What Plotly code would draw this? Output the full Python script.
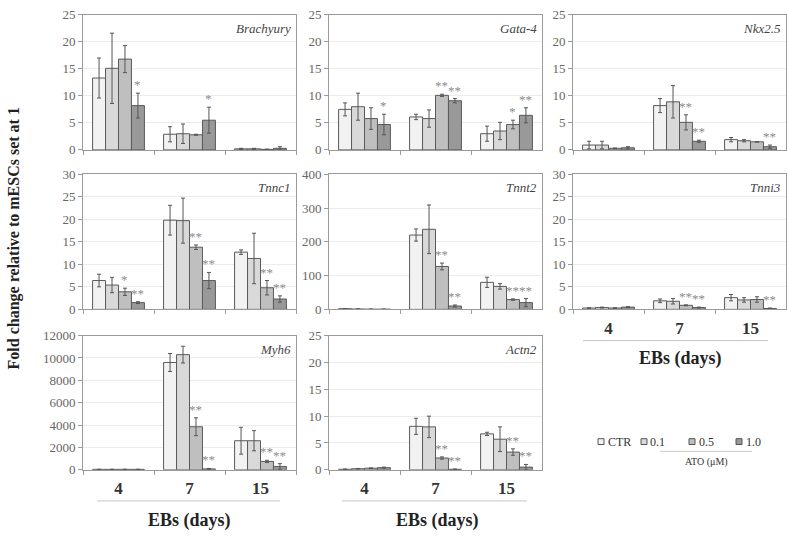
import plotly.graph_objects as go

W, H = 787, 541

DAYS = ["4", "7", "15"]
DOSES = ["CTR", "0.1", "0.5", "1.0"]
BAR_COLORS = ["#f2f2f2", "#d9d9d9", "#bfbfbf", "#999999"]

# values: [dose][day]
brachyury_mean = [[13.3, 2.9, 0.2], [15.1, 3.0, 0.2], [16.8, 2.8, 0.1], [8.2, 5.5, 0.3]]
brachyury_err = [[3.7, 1.4, 0.1], [6.5, 1.8, 0.1], [2.5, 0.1, 0.05], [2.3, 2.4, 0.3]]
brachyury_sig = [["", "", ""], ["", "", ""], ["", "", ""], ["*", "*", ""]]

gata4_mean = [[7.5, 6.1, 3.0], [8.0, 5.8, 3.5], [5.8, 10.1, 4.7], [4.7, 9.1, 6.4]]
gata4_err = [[1.2, 0.5, 1.4], [2.5, 1.6, 1.6], [2.0, 0.2, 0.8], [1.9, 0.4, 1.4]]
gata4_sig = [["", "", ""], ["", "", ""], ["", "**", "*"], ["*", "**", "**"]]

nkx25_mean = [[0.9, 8.2, 1.9], [0.9, 8.9, 1.7], [0.3, 5.1, 1.5], [0.4, 1.6, 0.6]]
nkx25_err = [[0.7, 1.3, 0.4], [0.7, 3.0, 0.2], [0.05, 1.4, 0.05], [0.2, 0.2, 0.3]]
nkx25_sig = [["", "", ""], ["", "", ""], ["", "**", ""], ["", "**", "**"]]

tnnc1_mean = [[6.4, 19.8, 12.7], [5.4, 19.7, 11.3], [3.9, 13.8, 4.8], [1.5, 6.4, 2.3]]
tnnc1_err = [[1.4, 3.3, 0.5], [1.7, 5.0, 5.6], [0.8, 0.5, 1.6], [0.2, 1.8, 0.7]]
tnnc1_sig = [["", "", ""], ["", "", ""], ["*", "**", "**"], ["**", "**", "**"]]

tnnt2_mean = [[2, 220, 80], [1, 237, 68], [0.5, 127, 29], [0.5, 10, 20]]
tnnt2_err = [[0.5, 18, 15], [0.5, 72, 8], [0.2, 10, 2], [0.2, 3, 12]]
tnnt2_sig = [["", "", ""], ["", "", ""], ["", "**", "**"], ["", "**", "**"]]

tnni3_mean = [[0.3, 1.9, 2.6], [0.4, 1.8, 2.1], [0.3, 0.9, 2.2], [0.5, 0.4, 0.2]]
tnni3_err = [[0.05, 0.4, 0.7], [0.1, 0.6, 0.5], [0.05, 0.1, 0.6], [0.1, 0.1, 0.1]]
tnni3_sig = [["", "", ""], ["", "", ""], ["", "**", ""], ["", "**", "**"]]

myh6_mean = [[40, 9600, 2600], [40, 10300, 2600], [40, 3850, 750], [40, 80, 300]]
myh6_err = [[5, 800, 1200], [5, 750, 900], [5, 800, 100], [5, 40, 250]]
myh6_sig = [["", "", ""], ["", "", ""], ["", "**", "**"], ["", "**", "**"]]

actn2_mean = [[0.1, 8.1, 6.7], [0.2, 8.0, 5.7], [0.3, 2.2, 3.3], [0.4, 0.1, 0.5]]
actn2_err = [[0.05, 1.5, 0.3], [0.05, 2.0, 2.3], [0.05, 0.2, 0.6], [0.1, 0.05, 0.5]]
actn2_sig = [["", "", ""], ["", "", ""], ["", "**", "**"], ["", "**", "**"]]

GENES = ["Brachyury", "Gata-4", "Nkx2.5", "Tnnc1", "Tnnt2", "Tnni3", "Myh6", "Actn2"]
MEANS = [brachyury_mean, gata4_mean, nkx25_mean, tnnc1_mean, tnnt2_mean, tnni3_mean, myh6_mean, actn2_mean]
ERRS = [brachyury_err, gata4_err, nkx25_err, tnnc1_err, tnnt2_err, tnni3_err, myh6_err, actn2_err]
SIGS = [brachyury_sig, gata4_sig, nkx25_sig, tnnc1_sig, tnnt2_sig, tnni3_sig, myh6_sig, actn2_sig]
YMAX = [25, 25, 25, 30, 400, 30, 12000, 25]
YDTICK = [5, 5, 5, 5, 100, 5, 2000, 5]
SHOW_CATS = [False, False, False, False, False, True, True, True]

# panel pixel boxes (left, top, right, bottom)
COLS = [(83, 296), (329, 542), (573, 786)]
ROWS = [(8, 147), (172, 311), (338, 476)]
GRID = [(0, 0), (0, 1), (0, 2), (1, 0), (1, 1), (1, 2), (2, 0), (2, 1)]

SERIF = "Liberation Serif"
BARGAP = 0.27

fig = go.Figure()
annotations = []
shapes = []

def px_x(p):
    return p / W

def px_y(p):
    return 1 - p / H

for i, gene in enumerate(GENES):
    n = i + 1
    xa = "x" if n == 1 else f"x{n}"
    ya = "y" if n == 1 else f"y{n}"
    r, c = GRID[i]
    l, rgt = COLS[c]
    t, b = ROWS[r]
    for d in range(4):
        fig.add_trace(go.Bar(
            x=DAYS, y=MEANS[i][d], name=DOSES[d], xaxis=xa, yaxis=ya,
            marker=dict(color=BAR_COLORS[d], line=dict(color="#5a5a5a", width=1)),
            error_y=dict(type="data", array=ERRS[i][d], color="#555555", thickness=1, width=2),
            showlegend=False, hoverinfo="skip",
        ))
    bw = (1 - BARGAP) / 4
    for d in range(4):
        off = -(1 - BARGAP) / 2 + bw * (d + 0.5)
        for k in range(3):
            s = SIGS[i][d][k]
            if s:
                annotations.append(dict(
                    x=k + off, y=MEANS[i][d][k] + ERRS[i][d][k], xref=xa, yref=ya,
                    text=s, showarrow=False, xanchor="center", yanchor="bottom", yshift=-1,
                    font=dict(family=SERIF, size=13, color="#8c8c8c"),
                ))
    annotations.append(dict(
        x=0.985, y=0.97, xref=f"{xa} domain", yref=f"{ya} domain", text=f"<i>{gene}</i>",
        showarrow=False, xanchor="right", yanchor="top",
        font=dict(family=SERIF, size=13, color="#444444"),
    ))
    xkey = "xaxis" if n == 1 else f"xaxis{n}"
    ykey = "yaxis" if n == 1 else f"yaxis{n}"
    fig.layout[xkey] = dict(
        domain=[px_x(l), px_x(rgt)], anchor=ya, type="category",
        categoryorder="array", categoryarray=DAYS,
        showline=True, linecolor="#9a9a9a", linewidth=1, mirror=True,
        ticks="outside", tickson="boundaries", ticklen=4, tickcolor="#9a9a9a",
        showticklabels=SHOW_CATS[i], showgrid=False, ticklabelstandoff=3,
        tickfont=dict(family=SERIF, size=17, color="#333333", weight="bold"),
    )
    fig.layout[ykey] = dict(
        domain=[px_y(b), px_y(t)], anchor=xa, range=[0, YMAX[i]], dtick=YDTICK[i],
        tickformat="d",
        showline=True, linecolor="#9a9a9a", linewidth=1, mirror=True,
        ticks="outside", ticklen=4, tickcolor="#9a9a9a",
        showgrid=True, gridcolor="#ececec", gridwidth=1, zeroline=False,
        tickfont=dict(family=SERIF, size=13, color="#666666"),
    )

# x-axis group labels (underline + title)
for (x0, x1, yl, yt, xc) in [(97, 280, 508, 528, 189), (342, 527, 508, 528, 437), (583, 768, 343, 362, 680)]:
    shapes.append(dict(type="line", xref="paper", yref="paper", x0=px_x(x0), x1=px_x(x1),
                       y0=px_y(yl), y1=px_y(yl), line=dict(color="#c8c8c8", width=1)))
    annotations.append(dict(x=px_x(xc), y=px_y(yt), xref="paper", yref="paper", text="<b>EBs (days)</b>",
                            showarrow=False, xanchor="center", yanchor="middle",
                            font=dict(family=SERIF, size=18, color="#222222")))

# y title
annotations.append(dict(x=px_x(14), y=px_y(238), xref="paper", yref="paper",
                        text="<b>Fold change relative to mESCs set at 1</b>", textangle=-90,
                        showarrow=False, xanchor="center", yanchor="middle",
                        font=dict(family=SERIF, size=16, color="#222222")))

# legend
LEG_SQ_X = [598, 641, 689, 736]
LEG_TX_X = [606, 648, 697, 744]
for d in range(4):
    sx = LEG_SQ_X[d]
    shapes.append(dict(type="rect", xref="paper", yref="paper", x0=px_x(sx), x1=px_x(sx + 6),
                       y0=px_y(450), y1=px_y(444), fillcolor=BAR_COLORS[d],
                       line=dict(color="#555555", width=1)))
    annotations.append(dict(x=px_x(LEG_TX_X[d]), y=px_y(447), xref="paper", yref="paper", text=DOSES[d],
                            showarrow=False, xanchor="left", yanchor="middle",
                            font=dict(family=SERIF, size=12, color="#333333")))
shapes.append(dict(type="line", xref="paper", yref="paper", x0=px_x(660), x1=px_x(752),
                   y0=px_y(457), y1=px_y(457), line=dict(color="#c8c8c8", width=1)))
annotations.append(dict(x=px_x(706), y=px_y(468), xref="paper", yref="paper", text="ATO (μM)",
                        showarrow=False, xanchor="center", yanchor="middle",
                        font=dict(family=SERIF, size=10, color="#333333")))

fig.update_layout(
    width=W, height=H, margin=dict(l=0, r=0, t=0, b=0),
    paper_bgcolor="white", plot_bgcolor="white",
    font=dict(family=SERIF),
    barmode="group", bargap=BARGAP, bargroupgap=0,
    showlegend=False, annotations=annotations, shapes=shapes,
)

fig.write_html("out.html", config={"displayModeBar": False},
               post_script="document.body.style.margin='0px';")
